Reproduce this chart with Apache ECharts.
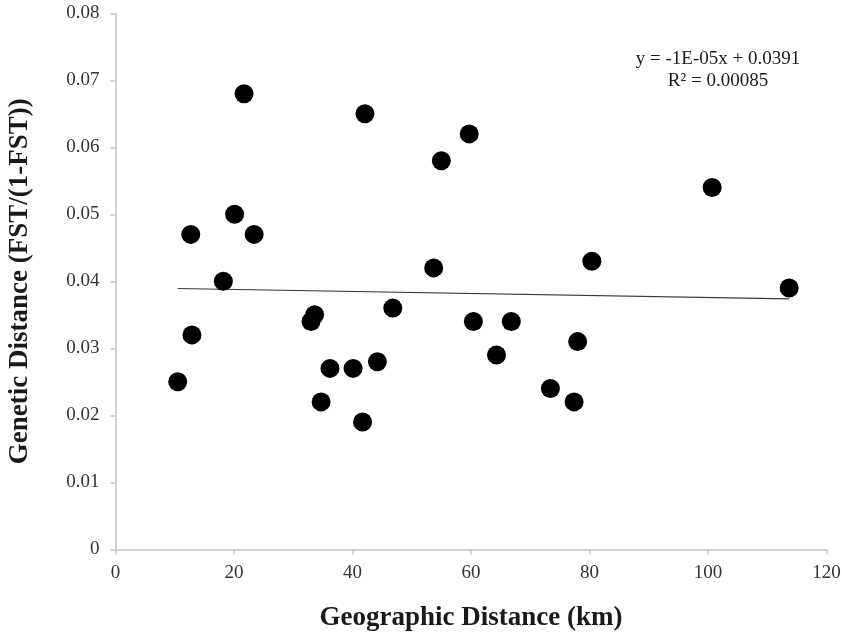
<!DOCTYPE html>
<html>
<head>
<meta charset="utf-8">
<style>
  html, body { margin: 0; padding: 0; background: #ffffff; }
  #chart { width: 842px; height: 634px; }
</style>
<script src="https://cdn.jsdelivr.net/npm/echarts@6/dist/echarts.min.js"></script>
</head>
<body>
<div id="chart"></div>
<script>
// Geographic distance between population pairs (km)
var geoDistance = [
  10.5, 12.7, 12.9, 18.2, 20.1, 21.7, 23.4, 33.0, 33.6, 34.7,
  36.2, 40.1, 41.7, 42.1, 44.2, 46.8, 53.7, 55.0, 59.7, 60.4,
  64.3, 66.8, 73.4, 77.4, 78.0, 80.4, 100.7, 113.7
];
// Genetic distance FST/(1-FST) for the same pairs
var geneticDistance = [
  0.025, 0.047, 0.032, 0.040, 0.050, 0.068, 0.047, 0.034, 0.035, 0.022,
  0.027, 0.027, 0.019, 0.065, 0.028, 0.036, 0.042, 0.058, 0.062, 0.034,
  0.029, 0.034, 0.024, 0.022, 0.031, 0.043, 0.054, 0.039
];
var equationText = 'y = -1E-05x + 0.0391';
var rSquaredText = 'R\u00B2 = 0.00085';

var FONT = '"Liberation Serif", "Times New Roman", serif';

// Least-squares linear trendline through the points
function linearFit(xs, ys) {
  var n = xs.length, mx = 0, my = 0;
  for (var i = 0; i < n; i++) { mx += xs[i]; my += ys[i]; }
  mx /= n; my /= n;
  var sxy = 0, sxx = 0;
  for (var j = 0; j < n; j++) {
    sxy += (xs[j] - mx) * (ys[j] - my);
    sxx += (xs[j] - mx) * (xs[j] - mx);
  }
  var slope = sxy / sxx;
  return { slope: slope, intercept: my - slope * mx };
}
var fit = linearFit(geoDistance, geneticDistance);
var xMin = Math.min.apply(null, geoDistance);
var xMax = Math.max.apply(null, geoDistance);
var trendData = [
  [xMin, fit.intercept + fit.slope * xMin],
  [xMax, fit.intercept + fit.slope * xMax]
];

var points = geoDistance.map(function (x, i) { return [x, geneticDistance[i]]; });

var axisLineStyle = { color: '#c4c4c4', width: 1.5 };
var chart = echarts.init(document.getElementById('chart'), null, { renderer: 'canvas' });
chart.setOption({
  backgroundColor: '#ffffff',
  animation: false,
  grid: {
    left: 115.5, right: 15.5, top: 13.3, bottom: 84.7,
    containLabel: false, outerBoundsMode: 'none'
  },
  xAxis: {
    type: 'value',
    min: 0, max: 120, interval: 20,
    name: 'Geographic Distance (km)',
    nameLocation: 'middle',
    nameGap: 55,
    nameTextStyle: { fontFamily: FONT, fontSize: 27, fontWeight: 'bold', color: '#1a1a1a' },
    axisLine: { show: true, lineStyle: axisLineStyle },
    axisTick: { show: true, length: 5, lineStyle: axisLineStyle },
    axisLabel: { fontFamily: FONT, fontSize: 19, color: '#333333', margin: 14 },
    splitLine: { show: false }
  },
  yAxis: {
    type: 'value',
    min: 0, max: 0.08, interval: 0.01,
    name: 'Genetic Distance (FST/(1-FST))',
    nameLocation: 'middle',
    nameRotate: 90,
    nameGap: 82,
    nameTextStyle: { fontFamily: FONT, fontSize: 27, fontWeight: 'bold', color: '#1a1a1a' },
    axisLine: { show: true, lineStyle: axisLineStyle },
    axisTick: { show: true, length: 5, lineStyle: axisLineStyle },
    axisLabel: {
      fontFamily: FONT, fontSize: 19, color: '#333333', margin: 16,
      formatter: function (v) { return v === 0 ? '0' : v.toFixed(2); }
    },
    splitLine: { show: false }
  },
  series: [
    {
      type: 'line',
      data: trendData,
      symbol: 'none',
      lineStyle: { color: '#3a3a3a', width: 1.2 },
      silent: true,
      z: 1
    },
    {
      type: 'scatter',
      data: points,
      symbol: 'circle',
      symbolSize: 19,
      itemStyle: { color: '#000000', opacity: 1 },
      z: 2
    }
  ],
  graphic: [
    {
      type: 'text',
      x: 718, y: 59,
      style: {
        text: equationText, font: '19px ' + FONT, fill: '#1a1a1a',
        align: 'center', verticalAlign: 'middle'
      }
    },
    {
      type: 'text',
      x: 718, y: 81,
      style: {
        text: rSquaredText, font: '19px ' + FONT, fill: '#1a1a1a',
        align: 'center', verticalAlign: 'middle'
      }
    }
  ]
});
</script>
</body>
</html>
